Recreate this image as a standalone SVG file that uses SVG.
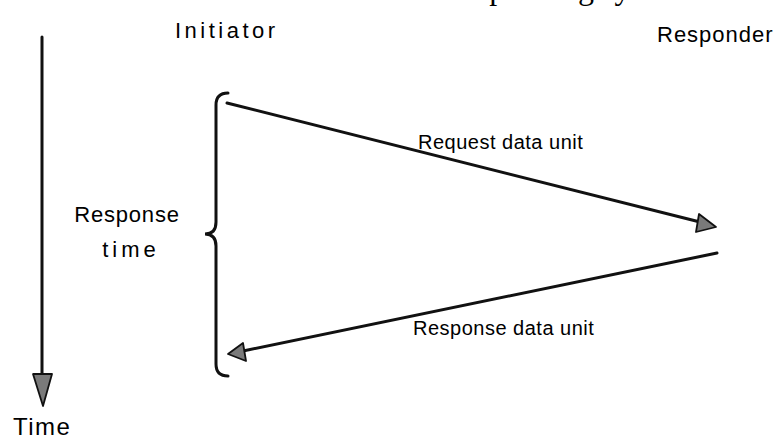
<svg xmlns="http://www.w3.org/2000/svg" width="779" height="440" viewBox="0 0 779 440">
<style>
.lbl{font-family:"Liberation Sans",Arial,sans-serif;fill:#000}
.ln{stroke:#111;stroke-width:3;fill:none;stroke-linecap:round}
.head{fill:#7a7a7a;stroke:#111;stroke-width:1.8;stroke-linejoin:round}
</style>
<rect width="779" height="440" fill="#fff"/>
<text x="411" y="-1" font-family="'Liberation Serif',serif" font-size="32" fill="#000">corresponding sy</text>
<g id="initiator"><text class="lbl" x="175" y="38" font-size="22" letter-spacing="3.5">Initiator</text></g>
<g id="responder"><text class="lbl" x="657" y="42" font-size="22" letter-spacing="1">Responder</text></g>
<g id="response-time">
<text class="lbl" x="127" y="222" font-size="22" text-anchor="middle" letter-spacing="0.8">Response</text>
<text class="lbl" x="131" y="257" font-size="22" text-anchor="middle" letter-spacing="4">time</text>
<path class="ln" stroke-width="2.5" d="M228,93 Q216,93 216,105 L216,222 Q216,234 205,234 Q216,234 216,246 L216,364 Q216,376 228,376"/>
</g>
<g id="time-axis">
<line class="ln" stroke-width="2.5" x1="42" y1="37" x2="42" y2="376"/>
<polygon class="head" points="33,374 52,374 43,406"/>
<text class="lbl" x="13" y="435" font-size="24" letter-spacing="1.5">Time</text>
</g>
<g id="connectors">
<line class="ln" x1="227" y1="103" x2="700" y2="222"/>
<polygon class="head" points="716,227 699,214 696,232"/>
<text class="lbl" x="418" y="149" font-size="20" letter-spacing="0.5">Request data unit</text>
<line class="ln" x1="717" y1="253" x2="243" y2="351"/>
<polygon class="head" points="228,354 243,343 246,361"/>
<text class="lbl" x="413" y="335" font-size="20" letter-spacing="0.5">Response data unit</text>
</g>
</svg>
